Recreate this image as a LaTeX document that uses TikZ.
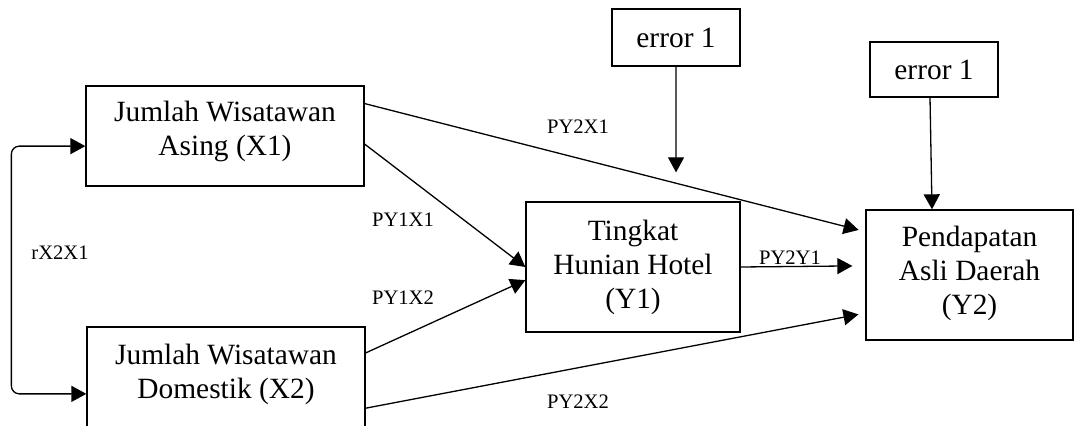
\documentclass[tikz,border=0pt]{standalone}
\usepackage{fontspec}
\setmainfont{Liberation Serif}
\usetikzlibrary{arrows.meta,calc}
\begin{document}
\begin{tikzpicture}[x=0.5pt,y=-0.5pt,
    box/.style={draw, line width=0.65pt, align=center, inner sep=0pt,
      font=\fontsize{14.7}{17}\selectfont},
    lbl/.style={inner sep=0pt, font=\fontsize{10.3}{12}\selectfont},
    arr/.style={-{Triangle[length=7.5pt,width=8pt]}, line width=0.65pt}]
    \useasboundingbox (0,0) rectangle (1074,426);
    % boxes
    \node[box, minimum width=139pt, minimum height=50pt, text depth=8pt] (x1) at (225,136) {Jumlah Wisatawan\\Asing (X1)};
    \node[box, minimum width=139pt, minimum height=50.5pt, text depth=6pt] (x2) at (226,377.5) {Jumlah Wisatawan\\Domestik (X2)};
    \node[box, minimum width=107pt, minimum height=65pt] (y1) at (633,267) {Tingkat\\Hunian Hotel\\(Y1)};
    \node[box, minimum width=103.5pt, minimum height=65pt, text depth=5pt] (y2) at (969.5,275) {Pendapatan\\Asli Daerah\\(Y2)};
    \node[box, minimum width=64pt, minimum height=28.5pt] (err1) at (676,37.5) {error 1};
    \node[box, minimum width=64pt, minimum height=27.5pt] (err2) at (934,69.5) {error 1};
    % paths
    \draw[arr, shorten >=3.5pt] ($(x1.north east)!0.18!(x1.south east)$) -- ($(y2.north west)!0.17!(y2.south west)$);
    \draw[arr] ($(x1.north east)!0.58!(x1.south east)$) -- (y1.west);
    \draw[arr] ($(x2.north east)!0.26!(x2.south east)$) -- ($(y1.north west)!0.6!(y1.south west)$);
    \draw[arr, shorten >=3.5pt] ($(x2.north east)!0.8!(x2.south east)$) -- ($(y2.north west)!0.79!(y2.south west)$);
    \draw[arr, shorten >=6.5pt] (y1.east) -- ($(y2.north west)!0.43!(y2.south west)$);
    \draw[arr, shorten >=14.5pt] (err1.south) -- ($(y1.north west)!0.7!(y1.north east)$);
    \draw[arr] ([xshift=-2pt]err2.south) -- ($(y2.north west)!0.32!(y2.north east)$);
    \draw[arr, {Triangle[length=7.5pt,width=8pt]}-{Triangle[length=7.5pt,width=8pt]}, rounded corners=4pt]
      ($(x1.north west)!0.6!(x1.south west)$) -- ++(-74,0) |- ($(x2.north west)!0.66!(x2.south west)$);
    % labels
    \node[lbl] (lx1y2) at (578,127) {PY2X1};
    \node[lbl] (lx1y1) at (403,220) {PY1X1};
    \node[lbl] (lx2y1) at (403,298) {PY1X2};
    \node[lbl] (ly1y2) at (790,258) {PY2Y1};
    \node[lbl] (lx2y2) at (578,402) {PY2X2};
    \node[lbl] (lr) at (60,253) {rX2X1};
  \end{tikzpicture}
\end{document}
